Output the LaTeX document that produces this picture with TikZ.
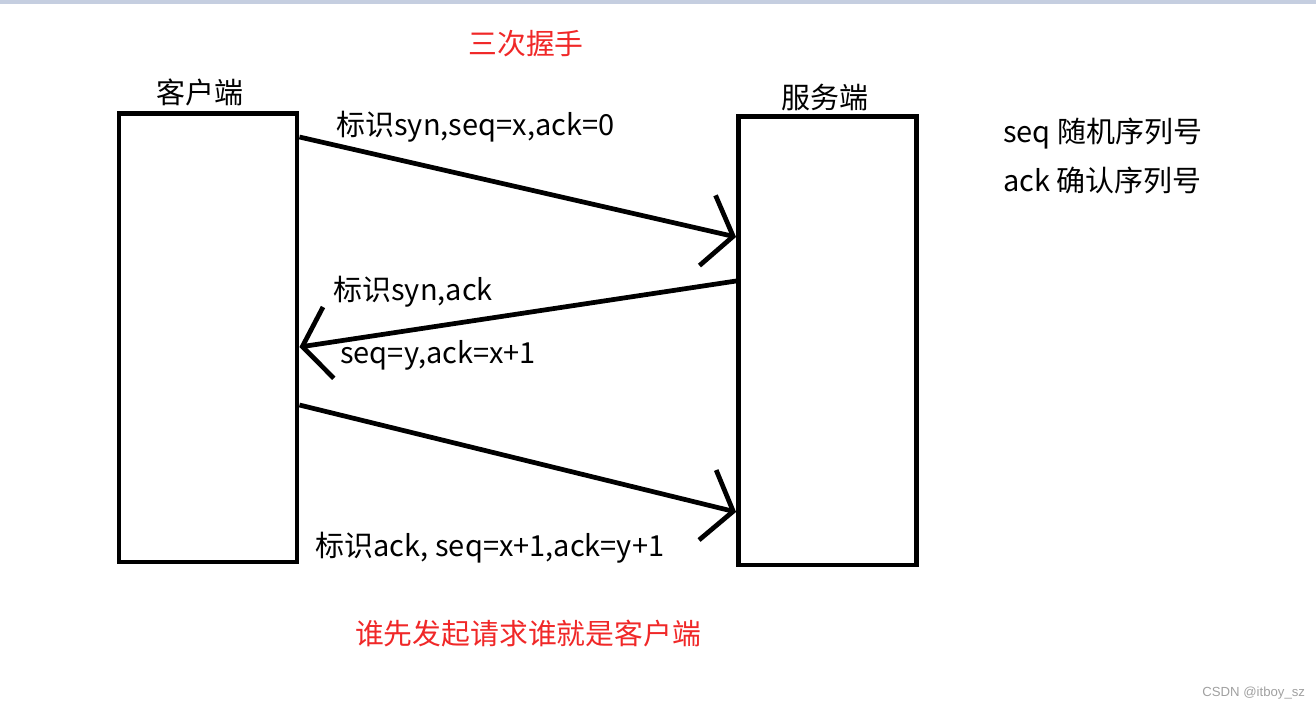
\documentclass[tikz,border=0pt]{standalone}
\usepackage{fontspec}
\setmainfont{Noto Sans CJK SC}
\newfontfamily\wmfont{Liberation Sans}
\usetikzlibrary{arrows.meta}
\definecolor{barcol}{HTML}{C5CEE0}
\definecolor{redtxt}{HTML}{F02828}
\definecolor{wmgray}{HTML}{A0A0A0}

\begin{document}
\begin{tikzpicture}[x=0.02cm,y=-0.02cm]

\tikzset{
  Box/.style = {draw, line width=2.8pt, minimum width=3.56cm,
                minimum height=8.98cm, inner sep=0pt},
  Msg/.style = {line width=2.7pt,
                -{Straight Barb[length=15pt,width=41pt]}},
  Lbl/.style = {font=\fontsize{16.5}{19}\selectfont, inner sep=0pt},
  Note/.style = {font=\fontsize{16.4}{19}\selectfont, text=redtxt, inner sep=0pt} }

  \useasboundingbox (0,0) rectangle (1316,711);
  \fill[barcol] (0,0) rectangle (1316,4);

  \node[Box] (cli) at (208,337.5) {};
  \node[Box] (srv) at (827.5,340.5) {};

  \node[Lbl] (cliname) at (200,92) {客户端};
  \node[Lbl] (srvname) at (825,97) {服务端};
  \node[Note] (title) at (526,44) {三次握手};

  \draw[Msg] (cli.east |- 0,137) -- (srv.west |- 0,237);
  \draw[Msg] (srv.west |- 0,281) -- (cli.east |- 0,347);
  \draw[Msg] (cli.east |- 0,405) -- (srv.west |- 0,512);

  \node[Lbl, anchor=west] (m1) at (336,127) {标识syn,seq=x,ack=0};
  \node[Lbl, anchor=west] (m2a) at (333,292) {标识syn,ack};
  \node[Lbl, anchor=west] (m2b) at (340,355) {seq=y,ack=x+1};
  \node[Lbl, anchor=west] (m3) at (315,548) {标识ack, seq=x+1,ack=y+1};

  \node[Lbl, anchor=west] (k1) at (1003,134) {seq 随机序列号};
  \node[Lbl, anchor=west] (k2) at (1003,180) {ack 确认序列号};

  \node[Note] (who) at (528,634) {谁先发起请求谁就是客户端};
  \node[anchor=west, inner sep=0pt, text=wmgray,
        font=\wmfont\fontsize{7.5}{9}\selectfont] (wm) at (1202,693) {CSDN @itboy\_sz};

\end{tikzpicture}
\end{document}
